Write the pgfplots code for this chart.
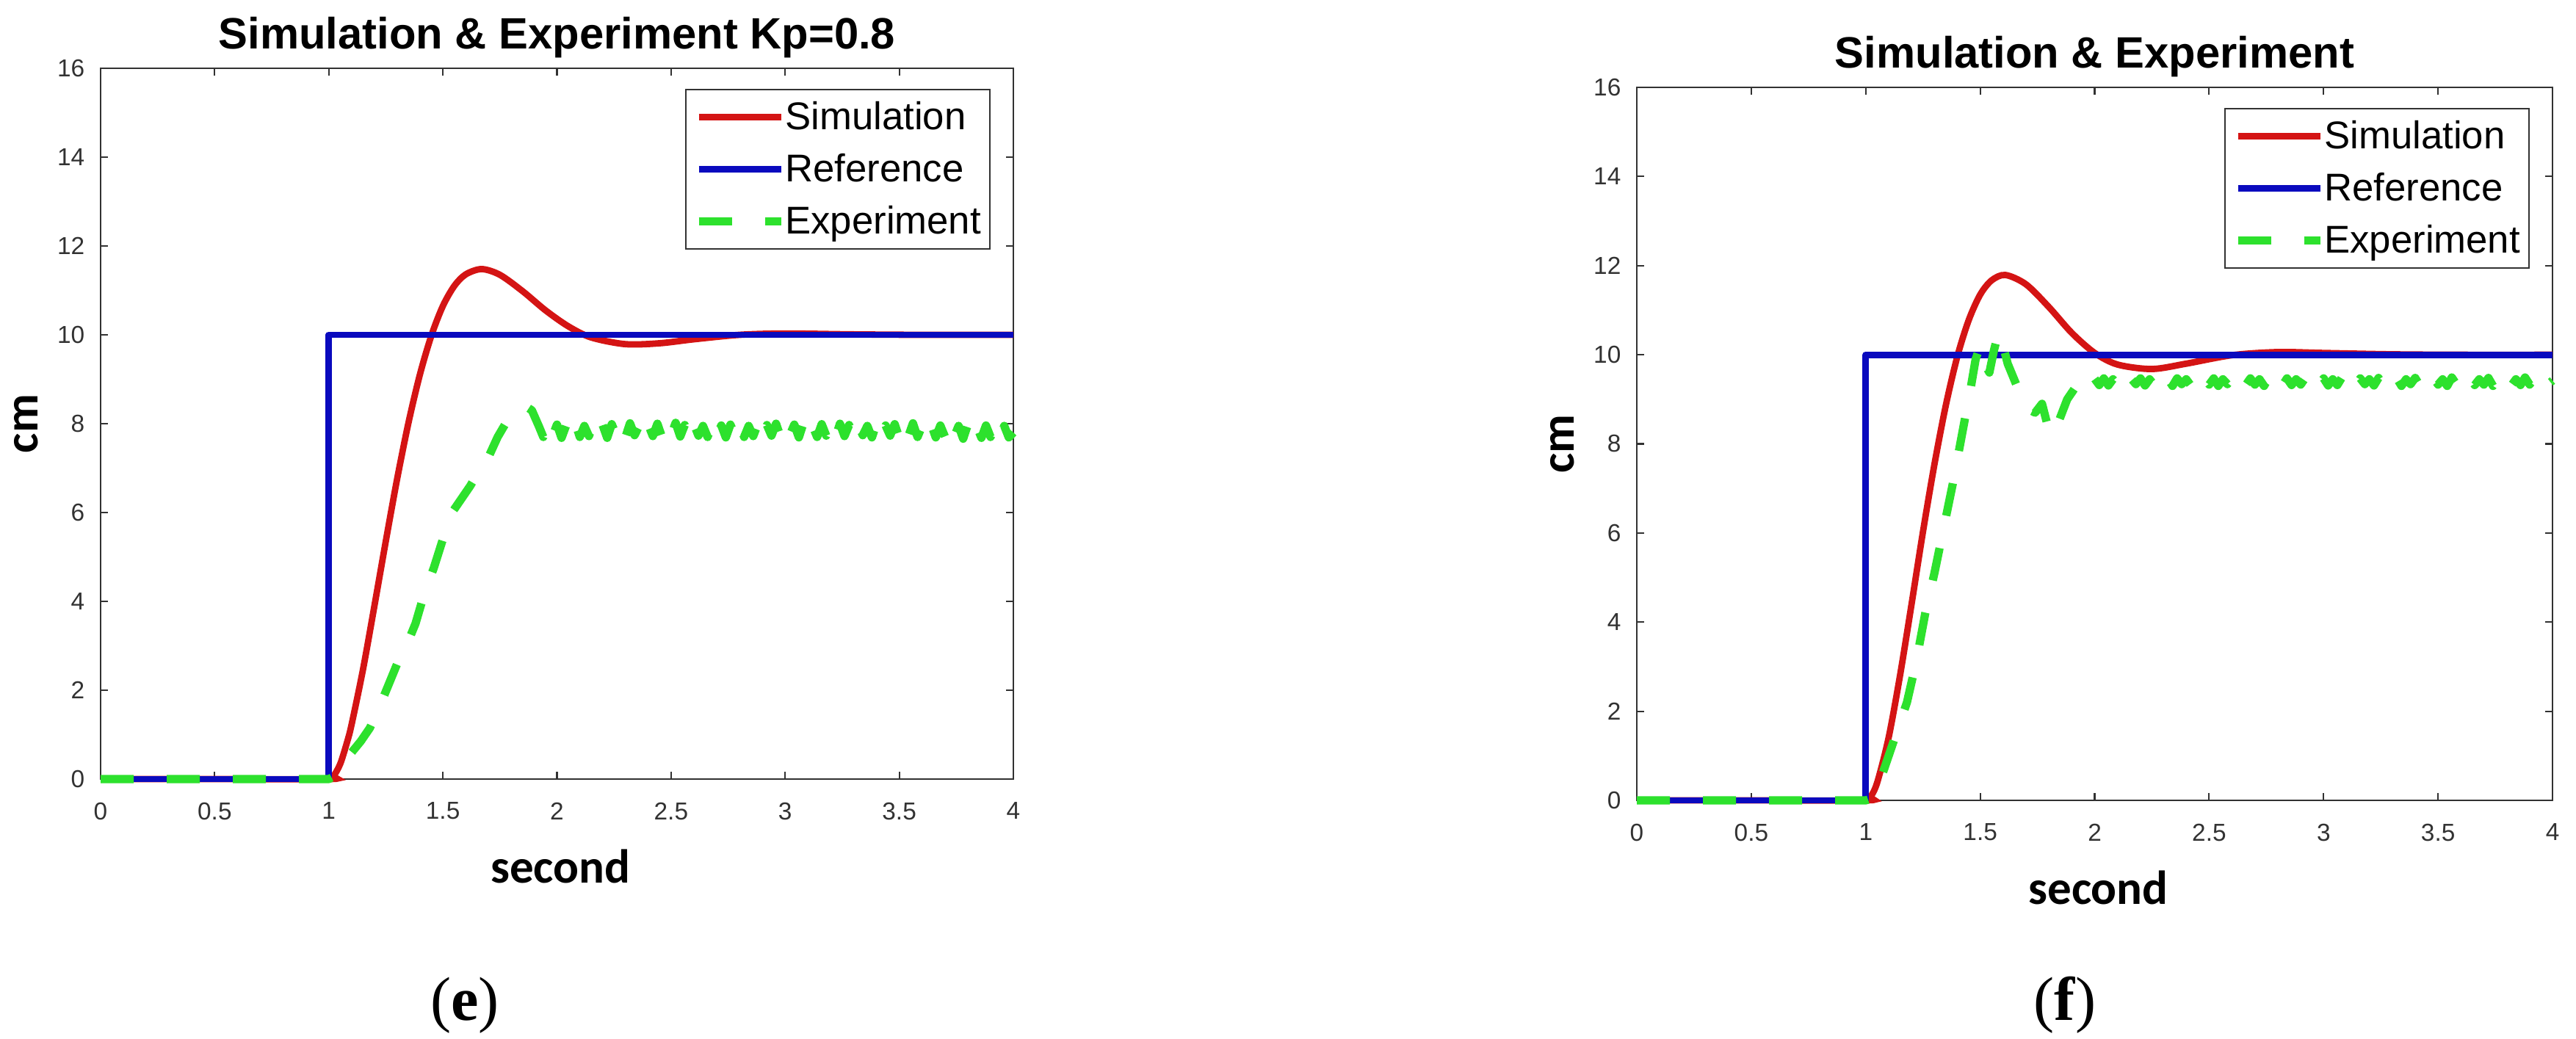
\documentclass[border=0pt]{standalone}
\usepackage{fontspec}
\setmainfont{Liberation Sans}
\newfontfamily\carlito{Carlito}
\newfontfamily\libserif{Liberation Serif}
\usepackage{pgfplots}
\pgfplotsset{compat=1.18}
\definecolor{simred}{RGB}{212,20,20}
\definecolor{refblue}{RGB}{10,10,190}
\definecolor{expgreen}{RGB}{45,225,45}
\definecolor{axgray}{RGB}{50,50,50}

\pgfplotsset{
  matlabaxis/.style={
    scale only axis, anchor=south west, clip=false,
    xmin=0, xmax=4, ymin=0, ymax=16,
    xtick={0,0.5,1,1.5,2,2.5,3,3.5,4},
    xticklabels={0,0.5,1,1.5,2,2.5,3,3.5,4},
    ytick={0,2,4,6,8,10,12,14,16},
    yticklabels={0,2,4,6,8,10,12,14,16},
    /pgf/number format/assume math mode=true,
    tick align=inside, xtick pos=both, ytick pos=both,
    major tick length=1mm,
    axis line style={axgray, line width=0.6pt},
    major tick style={axgray, line width=0.6pt},
    ticklabel style={font=\fontsize{9.5}{11}\selectfont, text=axgray},
    xticklabel style={anchor=north, inner sep=0pt, yshift=-3.1mm},
    yticklabel style={anchor=east, inner sep=0pt, xshift=-2.1mm},
    title style={font=\bfseries\fontsize{17}{20}\selectfont, at={(axis description cs:0.5,1)}, anchor=base, yshift=1.4pt},
    xlabel style={font=\carlito\bfseries\fontsize{18.5}{22}\selectfont, at={(axis description cs:0.5,0)}, anchor=base, yshift=-14.1mm, xshift=0.5mm},
    ylabel style={font=\carlito\bfseries\fontsize{18.5}{22}\selectfont, at={([xshift=-8.6mm]axis description cs:0,0.5)}, anchor=base},
    xlabel={second}, ylabel={cm},
    legend image code/.code={\draw[#1] (0mm,0mm) -- (11.2mm,0mm);},
    legend cell align=left,
    legend style={at={(axis description cs:1,1)}, anchor=north east, xshift=-3.1mm, yshift=-2.8mm,
      font=\fontsize{15}{18}\selectfont, draw=axgray, line width=0.6pt,
      inner xsep=1.2mm, inner ysep=1.55mm, row sep=2.7mm,
      nodes={inner sep=0pt, text height=3.9mm, text depth=0.5mm},
      /tikz/every even column/.append style={column sep=1mm}},
  },
  simstyle/.style={simred, line width=2.5pt, smooth, tension=0.5},
  refstyle/.style={refblue, line width=2.5pt, line join=round},
  expstyle/.style={expgreen, line width=3.2pt, dash pattern=on 4.5mm off 4.5mm, line join=round},
}

\begin{document}
\begin{tikzpicture}
\useasboundingbox (0,0) rectangle (350.8mm,141.4mm);

% ---------------- (e) ----------------
\begin{axis}[matlabaxis, at={(13.7mm,35.3mm)}, width=124.3mm, height=96.8mm,
  title={Simulation \& Experiment Kp=0.8}]
\addplot[simstyle] table {
t v
0 0
0.5 0
1.00 0
1.02 0.06
1.05 0.34
1.08 0.83
1.10 1.23
1.15 2.47
1.20 3.90
1.25 5.36
1.30 6.77
1.35 8.04
1.40 9.12
1.45 9.99
1.50 10.65
1.55 11.10
1.60 11.36
1.67 11.48
1.75 11.35
1.85 10.98
1.95 10.55
2.05 10.19
2.15 9.94
2.30 9.79
2.45 9.81
2.60 9.90
2.80 10.00
3.00 10.03
3.30 10.01
3.60 10.00
4.00 10.00
};
\addplot[refstyle] table {
t v
0 0
1 0
1 10
4 10
};
\addplot[expstyle] table {
t v
0 0
1.00 0.00
1.03 0.08
1.06 0.30
1.10 0.60
1.14 0.85
1.18 1.15
1.22 1.60
1.26 2.10
1.30 2.60
1.34 3.00
1.38 3.50
1.42 4.20
1.46 4.75
1.50 5.40
1.54 6.00
1.58 6.30
1.62 6.60
1.66 6.95
1.70 7.25
1.74 7.70
1.78 8.05
1.82 8.30
1.86 8.40
1.89 8.30
1.92 7.95
1.94 7.70
1.96 8.00
1.98 7.72
2.00 7.98
2.02 7.68
2.04 7.96
2.06 7.74
2.08 8.02
2.10 7.70
2.12 7.95
2.14 7.72
2.16 8.00
2.18 7.75
2.20 7.97
2.22 7.68
2.24 7.99
2.26 7.73
2.28 7.96
2.30 7.70
2.32 8.01
2.34 7.74
2.36 7.95
2.38 7.69
2.40 7.98
2.42 7.72
2.44 8.00
2.46 7.70
2.48 7.96
2.50 7.74
2.52 8.02
2.54 7.71
2.56 7.97
2.58 7.68
2.60 7.99
2.62 7.73
2.64 7.95
2.66 7.70
2.68 8.00
2.70 7.72
2.72 7.96
2.74 7.69
2.76 7.98
2.78 7.74
2.80 8.01
2.82 7.70
2.84 7.95
2.86 7.72
2.88 7.99
2.90 7.68
2.92 7.97
2.94 7.73
2.96 8.00
2.98 7.70
3.00 7.96
3.02 7.74
3.04 7.98
3.06 7.69
3.08 8.01
3.10 7.72
3.12 7.95
3.14 7.70
3.16 7.99
3.18 7.73
3.20 7.96
3.22 7.68
3.24 8.00
3.26 7.72
3.28 7.97
3.30 7.70
3.32 7.98
3.34 7.74
3.36 7.95
3.38 7.69
3.40 8.00
3.42 7.71
3.44 7.96
3.46 7.73
3.48 7.99
3.50 7.68
3.52 7.97
3.54 7.72
3.56 8.01
3.58 7.70
3.60 7.95
3.62 7.73
3.64 7.98
3.66 7.69
3.68 7.96
3.70 7.71
3.72 8.00
3.74 7.70
3.76 7.95
3.78 7.66
3.80 7.97
3.82 7.70
3.84 7.94
3.86 7.68
3.88 7.96
3.90 7.70
3.92 7.93
3.94 7.67
3.96 7.95
3.98 7.69
4.00 7.80
};
\legend{Simulation,Reference,Experiment}
\end{axis}

% ---------------- (f) ----------------
\begin{axis}[matlabaxis, at={(222.9mm,32.4mm)}, width=124.7mm, height=97.1mm,
  title={Simulation \& Experiment}]
\addplot[simstyle] table {
t v
0 0
0.5 0
1.00 0
1.02 0.07
1.05 0.40
1.10 1.41
1.15 2.81
1.20 4.40
1.25 6.03
1.30 7.54
1.35 8.87
1.40 9.96
1.45 10.78
1.50 11.35
1.55 11.67
1.61 11.79
1.70 11.58
1.80 11.07
1.90 10.49
2.00 10.04
2.10 9.78
2.25 9.68
2.40 9.80
2.60 9.99
2.80 10.06
3.00 10.04
3.30 10.01
3.60 10.00
4.00 10.00
};
\addplot[refstyle] table {
t v
0 0
1 0
1 10
4 10
};
\addplot[expstyle] table {
t v
0 0
1.00 0.00
1.03 0.05
1.06 0.40
1.10 1.00
1.14 1.60
1.18 2.20
1.22 3.10
1.26 4.20
1.30 5.10
1.34 6.10
1.38 7.10
1.42 8.20
1.46 9.30
1.48 9.90
1.50 10.20
1.52 9.80
1.54 9.60
1.56 10.10
1.58 10.50
1.60 10.20
1.62 9.80
1.66 9.30
1.70 8.80
1.74 8.70
1.77 8.90
1.80 8.30
1.82 8.20
1.85 8.60
1.88 9.00
1.92 9.30
1.94 9.45
1.96 9.44
1.98 9.30
2.00 9.46
2.02 9.32
2.04 9.47
2.06 9.31
2.08 9.45
2.10 9.33
2.12 9.48
2.14 9.30
2.16 9.46
2.18 9.34
2.20 9.47
2.22 9.31
2.24 9.45
2.26 9.32
2.28 9.49
2.30 9.33
2.32 9.46
2.34 9.30
2.36 9.47
2.38 9.34
2.40 9.45
2.42 9.31
2.44 9.48
2.46 9.32
2.48 9.46
2.50 9.33
2.52 9.47
2.54 9.30
2.56 9.45
2.58 9.34
2.60 9.48
2.62 9.31
2.64 9.46
2.66 9.32
2.68 9.47
2.70 9.33
2.72 9.45
2.74 9.30
2.76 9.49
2.78 9.34
2.80 9.46
2.82 9.31
2.84 9.47
2.86 9.32
2.88 9.45
2.90 9.33
2.92 9.48
2.94 9.30
2.96 9.46
2.98 9.34
3.00 9.47
3.02 9.31
3.04 9.45
3.06 9.32
3.08 9.49
3.10 9.33
3.12 9.46
3.14 9.30
3.16 9.47
3.18 9.34
3.20 9.45
3.22 9.31
3.24 9.48
3.26 9.32
3.28 9.46
3.30 9.33
3.32 9.47
3.34 9.30
3.36 9.45
3.38 9.34
3.40 9.48
3.42 9.31
3.44 9.46
3.46 9.32
3.48 9.47
3.50 9.33
3.52 9.45
3.54 9.30
3.56 9.49
3.58 9.34
3.60 9.46
3.62 9.31
3.64 9.47
3.66 9.32
3.68 9.45
3.70 9.33
3.72 9.48
3.74 9.30
3.76 9.46
3.78 9.34
3.80 9.47
3.82 9.31
3.84 9.45
3.86 9.32
3.88 9.49
3.90 9.33
3.92 9.46
3.94 9.30
3.96 9.47
3.98 9.34
4.00 9.42
};
\legend{Simulation,Reference,Experiment}
\end{axis}

\node[font=\libserif\fontsize{24}{28}\selectfont, anchor=base] at (63.3mm,2.5mm) {(\textbf{e})};
\node[font=\libserif\fontsize{24}{28}\selectfont, anchor=base] at (281.2mm,2.5mm) {(\textbf{f})};
\end{tikzpicture}
\end{document}
